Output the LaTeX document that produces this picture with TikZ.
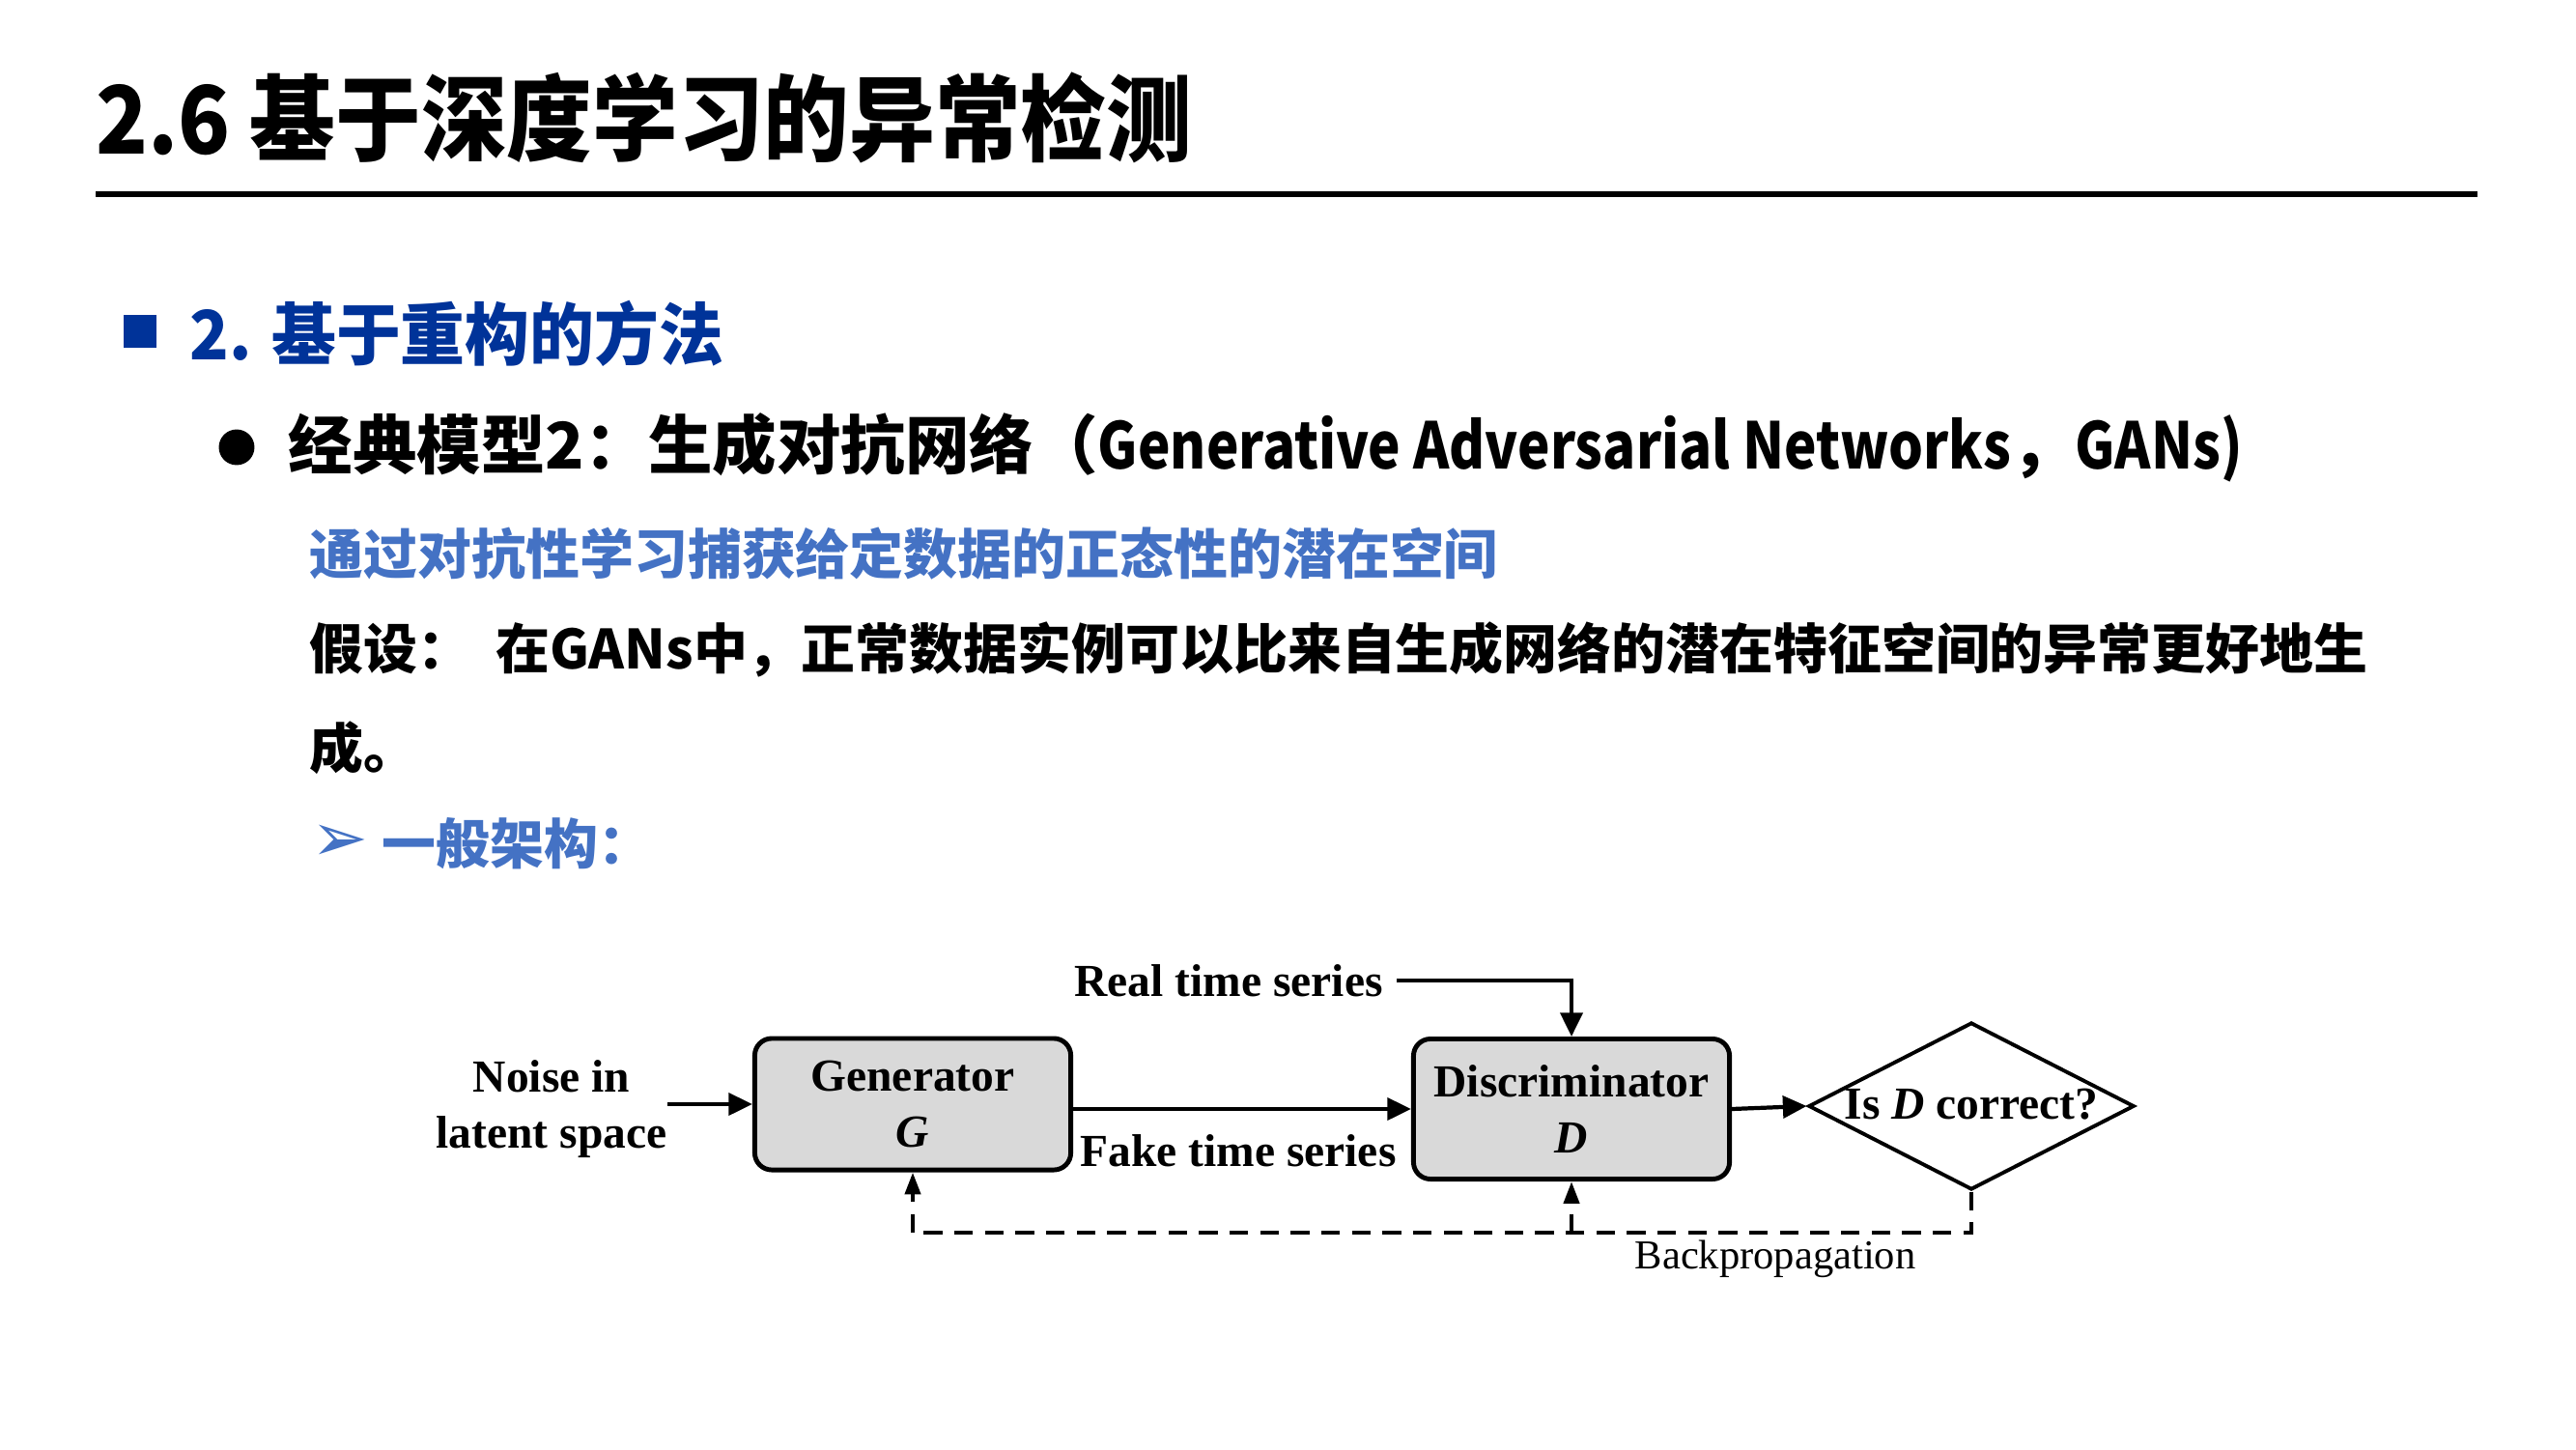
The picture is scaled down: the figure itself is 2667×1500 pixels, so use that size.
\documentclass[tikz,border=0pt]{standalone}
\usepackage{fontspec}
\usepackage{tikz}
\usetikzlibrary{calc,positioning,shapes.geometric,arrows.meta}
\newfontfamily\cjkfont{Noto Sans CJK SC}
\newfontfamily\cjktitlefont{Noto Sans CJK SC}[FakeStretch=0.91]
\newfontfamily\cjksecfont{Noto Sans CJK SC}[FakeStretch=0.95]
\newfontfamily\cjknarrowfont{Noto Sans CJK SC}[FakeStretch=0.85]
\newfontfamily\gansfont{Liberation Serif}
\newfontfamily\symfont{DejaVu Sans}
\definecolor{secblue}{RGB}{0,51,153}
\definecolor{keyblue}{RGB}{68,114,196}
\definecolor{boxgray}{RGB}{217,217,217}
\tikzset{
 slide title/.style={anchor=west,inner sep=0pt,
                     font=\cjktitlefont\bfseries\fontsize{27.7}{33}\selectfont},
 slide rule/.style={line width=1.8pt},
 sec mark/.style={rectangle,fill=secblue,minimum size=9.7pt,inner sep=0pt},
 sec text/.style={anchor=west,inner sep=0pt,text=secblue,
                  font=\cjksecfont\bfseries\fontsize{20}{24}\selectfont},
 dot mark/.style={circle,fill=black,minimum size=10.5pt,inner sep=0pt},
 item text/.style={anchor=west,inner sep=0pt,
                   font=\cjkfont\bfseries\fontsize{18.9}{22}\selectfont},
 body text/.style={anchor=west,inner sep=0pt,
                   font=\cjkfont\bfseries\fontsize{15.9}{19}\selectfont},
 gan box/.style={rectangle,rounded corners=5pt,draw=black,line width=1.4pt,
                 fill=boxgray,minimum width=3.27cm,align=center,inner sep=0pt,
                 font=\gansfont\bfseries\fontsize{13.5}{16.5}\selectfont},
 gan label/.style={align=center,inner sep=0pt,
                   font=\gansfont\bfseries\fontsize{13.5}{16.3}\selectfont},
 gan test/.style={diamond,draw=black,line width=1.1pt,minimum width=3.37cm,
                  minimum height=1.73cm,inner sep=0pt},
 gan flow/.style={line width=1.2pt,-{Triangle[length=7pt,width=6.5pt]}},
 gan back/.style={line width=1.3pt,dash pattern=on 5.5pt off 3.5pt},
 gan back tip/.style={gan back,-{Triangle[length=6.5pt,width=4.5pt]}}
}
\begin{document}
\begin{tikzpicture}[x=0.01cm,y=-0.01cm]
 \useasboundingbox (0,0) rectangle (2667,1500);
 % heading
 \node[slide title] (ttl) at (99,122) {2.6 基于深度学习的异常检测};
 \coordinate (rulel) at (99,201);
 \coordinate (ruler) at (2565,201);
 \draw[slide rule] (rulel)--(ruler);
 % section and items
 \node[sec mark] (secsq) at (145,343) {};
 \node[sec text] (sec) at (196,345) {2. 基于重构的方法};
 \node[dot mark] (dot) at (245,463) {};
 \node[item text] (model) at (298,463)
   {经典模型2：生成对抗网络（{\cjknarrowfont Generative Adversarial Networks}，{\cjknarrowfont GANs)}};
 \node[body text,text=keyblue] (idea) at (320,573)
   {通过对抗性学习捕获给定数据的正态性的潜在空间};
 \node[body text] (hyp) at (320,672)
   {假设：\hspace{0.45em}在GANs中，正常数据实例可以比来自生成网络的潜在特征空间的异常更好地生};
 \node[body text] (hyp2) at (320,774) {成。};
 \node[anchor=west,inner sep=0pt,text=keyblue,
       font=\symfont\fontsize{20}{22}\selectfont] (arr) at (322,873) {➢};
 \node[body text,text=keyblue] (arch) at (395,873) {一般架构：};
 % GAN diagram
 \node[gan box,minimum height=1.36cm] (gen) at (945,1143) {Generator\\\textit{G}};
 \node[gan box,minimum height=1.45cm] (dis) at (1627,1148) {Discriminator\\\textit{D}};
 \node[gan test] (test) at (2041,1145) {};
 \node[gan label] (testl) at (2041,1143) {Is \textit{D} correct?};
 \node[gan label] (noise) at (571,1148) {Noise in\\latent space};
 \node[gan label] (real) at (1272,1015) {Real time series};
 \node[gan label] (fake) at (1282,1191) {Fake time series};
 \node[gan label,anchor=west,font=\gansfont\fontsize{12.1}{14}\selectfont]
   (bp) at (1692,1303) {Backpropagation};
 \draw[gan flow] (noise.east|-gen.west) -- (gen.west);
 \draw[gan flow] (gen.east|-dis.west) -- (dis.west);
 \draw[gan flow] ([xshift=4pt]real.east) -| (dis.north);
 \draw[gan flow] (dis.east) -- (test.west);
 % backpropagation loop
 \coordinate (bpr) at (2041,1276);
 \coordinate (bpd) at (1627,1276);
 \coordinate (bpg) at (945,1276);
 \draw[gan back] (test.south) -- (bpr) -- (bpg);
 \draw[gan back tip] (bpg) -- (gen.south);
 \draw[gan back tip] (bpd) -- (dis.south);
\end{tikzpicture}
\end{document}
